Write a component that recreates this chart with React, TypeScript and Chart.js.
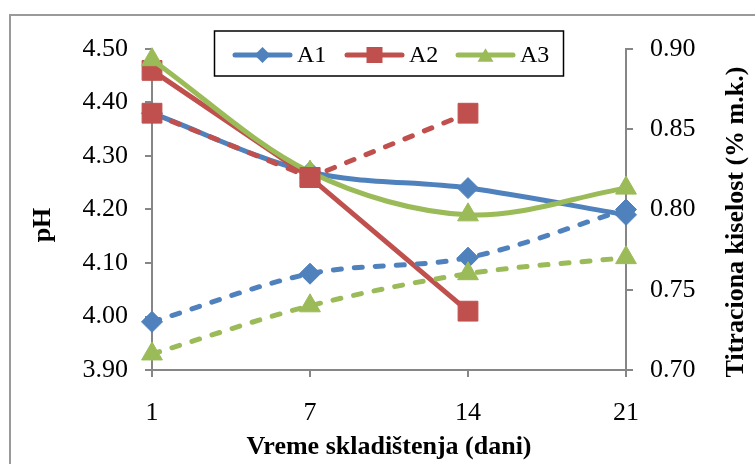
import React, { useEffect, useRef } from 'react';
import { Chart, registerables } from 'chart.js';

Chart.register(...registerables);

// ---- data ----
const days = ['1', '7', '14', '21'];
const seriesNames = ['A1', 'A2', 'A3'];
// pH (left axis, solid lines)
const phA1 = [4.38, 4.27, 4.24, 4.19];
const phA2 = [4.46, 4.26, 4.01, null];
const phA3 = [4.48, 4.27, 4.19, 4.24];
// titratable acidity (right axis, dashed lines)
const taA1 = [0.73, 0.76, 0.77, 0.8];
const taA2 = [0.86, 0.82, 0.86, null];
const taA3 = [0.71, 0.74, 0.76, 0.77];
// axes
const phMin = 3.9;
const phMax = 4.5;
const phStep = 0.1;
const taMin = 0.7;
const taMax = 0.9;
const taStep = 0.05;
const xTitle = 'Vreme skladištenja (dani)';
const yLeftTitle = 'pH';
const yRightTitle = 'Titraciona kiselost (% m.k.)';

const colors = ['#4F81BD', '#C0504D', '#9BBB59'];
const pointStyles = ['rectRot', 'rect', 'triangle'];
const pointRadii = [10.5, 14, 12];
const tensions = [0.33, 0, 0.33];
const axisGray = '#868686';
const FONT = "'Liberation Serif', 'Times New Roman', serif";

function drawMarker(ctx: CanvasRenderingContext2D, style: string, x: number, y: number, r: number) {
  ctx.beginPath();
  if (style === 'rectRot') {
    ctx.moveTo(x, y - r);
    ctx.lineTo(x + r, y);
    ctx.lineTo(x, y + r);
    ctx.lineTo(x - r, y);
  } else if (style === 'rect') {
    ctx.rect(x - r, y - r, 2 * r, 2 * r);
  } else {
    const h = r * 1.7;
    ctx.moveTo(x, y - h / 2);
    ctx.lineTo(x + r, y + h / 2);
    ctx.lineTo(x - r, y + h / 2);
  }
  ctx.closePath();
  ctx.fill();
}

const framePlugin = {
  id: 'frame',
  beforeDraw(chart: any) {
    const ctx = chart.ctx;
    ctx.save();
    ctx.fillStyle = '#ffffff';
    ctx.fillRect(0, 0, chart.width, chart.height);
    ctx.strokeStyle = '#9a9a9a';
    ctx.lineWidth = 2;
    ctx.strokeRect(10, 15, 800, 500);
    ctx.restore();
  },
};

const decorPlugin = {
  id: 'decor',
  afterDraw(chart: any) {
    const ctx = chart.ctx as CanvasRenderingContext2D;
    const area = chart.chartArea;
    ctx.save();
    ctx.fillStyle = '#000';
    ctx.font = `bold 26px ${FONT}`;
    ctx.textBaseline = 'middle';
    ctx.textAlign = 'center';
    // x title
    ctx.fillText(xTitle, (area.left + area.right) / 2, 447);
    // left title
    ctx.save();
    ctx.translate(43, 225);
    ctx.rotate(-Math.PI / 2);
    ctx.fillText(yLeftTitle, 0, 0);
    ctx.restore();
    // right title
    ctx.save();
    ctx.translate(736, 222);
    ctx.rotate(-Math.PI / 2);
    ctx.fillText(yRightTitle, 0, 0);
    ctx.restore();

    // legend
    const bx = 214.5, by = 31, bw = 349, bh = 45;
    ctx.fillStyle = '#fff';
    ctx.fillRect(bx, by, bw, bh);
    ctx.strokeStyle = '#000';
    ctx.lineWidth = 1.5;
    ctx.strokeRect(bx, by, bw, bh);
    const ly = 55;
    const starts = [235, 347, 458];
    ctx.font = `24px ${FONT}`;
    ctx.textAlign = 'left';
    seriesNames.forEach((name, i) => {
      const x0 = starts[i];
      ctx.strokeStyle = colors[i];
      ctx.lineWidth = 5;
      ctx.lineCap = 'round';
      ctx.beginPath();
      ctx.moveTo(x0, ly);
      ctx.lineTo(x0 + 55, ly);
      ctx.stroke();
      ctx.fillStyle = colors[i];
      drawMarker(ctx, pointStyles[i], x0 + 27.5, ly, i === 2 ? 8 : 8);
      ctx.fillStyle = '#000';
      ctx.fillText(name, x0 + 62, ly + 1);
    });
    ctx.restore();
  },
};

function makeSolid(i: number, data: (number | null)[]) {
  return {
    label: seriesNames[i] + ' pH',
    data,
    yAxisID: 'y',
    borderColor: colors[i],
    backgroundColor: colors[i],
    borderWidth: 5,
    pointStyle: pointStyles[i],
    pointRadius: pointRadii[i],
    pointBorderWidth: 1,
    pointBorderColor: colors[i],
    pointBackgroundColor: colors[i],
    tension: tensions[i],
    fill: false,
    clip: false,
    order: 6 - i,
  };
}

function makeDashed(i: number, data: (number | null)[]) {
  return {
    label: seriesNames[i] + ' TK',
    data,
    yAxisID: 'y2',
    borderColor: colors[i],
    backgroundColor: colors[i],
    borderWidth: 5,
    borderDash: [8, 13],
    borderCapStyle: 'round',
    pointStyle: pointStyles[i],
    pointRadius: pointRadii[i],
    pointBorderWidth: 1,
    pointBorderColor: colors[i],
    pointBackgroundColor: colors[i],
    tension: tensions[i],
    fill: false,
    clip: false,
    order: 3 - i,
  };
}

export default function App() {
  const ref = useRef<HTMLCanvasElement | null>(null);

  useEffect(() => {
    if (!ref.current) return;
    Chart.defaults.font.family = FONT;
    const tickFont = { family: FONT, size: 26, lineHeight: 1 };
    const chart = new Chart(ref.current, {
      type: 'line',
      data: {
        labels: days,
        datasets: [
          makeSolid(0, phA1),
          makeSolid(1, phA2),
          makeSolid(2, phA3),
          makeDashed(0, taA1),
          makeDashed(1, taA2),
          makeDashed(2, taA3),
        ] as any,
      },
      options: {
        animation: false,
        responsive: false,
        layout: { padding: { top: 49, left: 0, right: 0, bottom: 0 } },
        plugins: {
          legend: { display: false },
          tooltip: { enabled: false },
          title: { display: false },
        },
        scales: {
          x: {
            type: 'category',
            offset: false,
            grid: {
              display: true,
              drawOnChartArea: false,
              drawTicks: true,
              tickLength: 7,
              color: axisGray,
              lineWidth: 2,
              offset: false,
            },
            border: { display: true, color: axisGray, width: 2 },
            ticks: { font: tickFont, color: '#000', padding: 23, maxRotation: 0, autoSkip: false },
            afterFit: (s: any) => {
              s.height = 94;
            },
          },
          y: {
            position: 'left',
            min: phMin,
            max: phMax,
            grid: { drawOnChartArea: false, drawTicks: true, tickLength: 7, color: axisGray, lineWidth: 2 },
            border: { display: true, color: axisGray, width: 2 },
            ticks: {
              stepSize: phStep,
              font: tickFont,
              color: '#000',
              padding: 17,
              callback: (v: any) => Number(v).toFixed(2),
            },
            afterFit: (s: any) => {
              s.width = 152;
            },
          },
          y2: {
            position: 'right',
            min: taMin,
            max: taMax,
            grid: { drawOnChartArea: false, drawTicks: true, tickLength: 7, color: axisGray, lineWidth: 2 },
            border: { display: true, color: axisGray, width: 2 },
            ticks: {
              stepSize: taStep,
              font: tickFont,
              color: '#000',
              padding: 17,
              callback: (v: any) => Number(v).toFixed(2),
            },
            afterFit: (s: any) => {
              s.width = 129;
            },
          },
        },
      } as any,
      plugins: [framePlugin, decorPlugin],
    });
    return () => chart.destroy();
  }, []);

  return (
    <div style={{ position: 'absolute', left: 0, top: 0, width: 755, height: 464 }}>
      <canvas ref={ref} width={755} height={464} style={{ display: 'block' }} />
    </div>
  );
}
